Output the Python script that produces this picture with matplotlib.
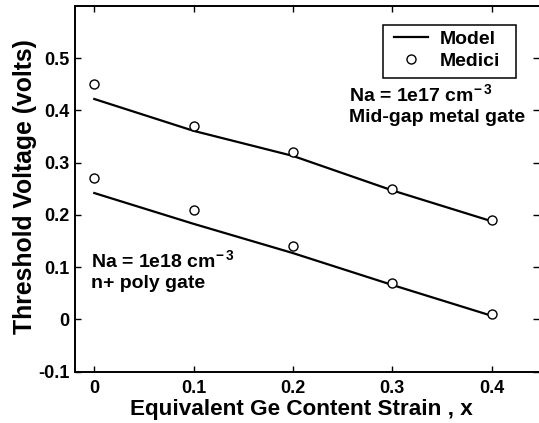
import matplotlib
matplotlib.use("Agg")
import matplotlib.pyplot as plt
from matplotlib.lines import Line2D
from matplotlib.patches import Rectangle

plt.rcParams['font.family'] = ['Liberation Sans', 'DejaVu Sans']
plt.rcParams['font.weight'] = 'bold'
plt.rcParams['mathtext.fontset'] = 'custom'
plt.rcParams['mathtext.rm'] = 'Liberation Sans:bold'
plt.rcParams['mathtext.it'] = 'Liberation Sans:bold'
plt.rcParams['mathtext.bf'] = 'Liberation Sans:bold'

# Data
x_strain = [0.0, 0.1, 0.2, 0.3, 0.4]
model_metal = [0.422, 0.361, 0.313, 0.247, 0.188]
medici_metal = [0.45, 0.37, 0.32, 0.25, 0.19]
model_poly = [0.242, 0.183, 0.127, 0.066, 0.007]
medici_poly = [0.27, 0.21, 0.14, 0.07, 0.01]
xticks = [0, 0.1, 0.2, 0.3, 0.4]
xticklabels = ['0', '0.1', '0.2', '0.3', '0.4']
yticks = [-0.1, 0, 0.1, 0.2, 0.3, 0.4, 0.5]
yticklabels = ['-0.1', '0', '0.1', '0.2', '0.3', '0.4', '0.5']

W, H = 539, 423
fig = plt.figure(figsize=(W / 100, H / 100), dpi=100)
ax = fig.add_axes([75 / W, (H - 371.7) / H, (W - 75) / W, (371.7 - 6) / H])

lw = 1.6
ms = 6.5
ax.plot(x_strain, model_metal, color='black', lw=lw, zorder=2)
ax.plot(x_strain, model_poly, color='black', lw=lw, zorder=2)
ax.plot(x_strain, medici_metal, linestyle='none', marker='o', ms=ms,
        mfc='white', mec='black', mew=1.0, zorder=3)
ax.plot(x_strain, medici_poly, linestyle='none', marker='o', ms=ms,
        mfc='white', mec='black', mew=1.0, zorder=3)

ax.set_xlim(-0.0194, 0.4476)
ax.set_ylim(-0.1, 0.6)
ax.set_xticks(xticks)
ax.set_xticklabels(xticklabels)
ax.set_yticks(yticks)
ax.set_yticklabels(yticklabels)
ax.tick_params(direction='in', length=4, width=1.0, top=True, right=True,
               labelsize=13, pad=4)
ax.tick_params(axis='x', pad=6)
for side in ['left', 'bottom', 'top']:
    ax.spines[side].set_linewidth(1.4)
ax.spines['right'].set_visible(False)

fig.text(25 / W, 1 - 186.5 / H, 'Threshold Voltage (volts)', rotation=90,
         ha='center', va='center', fontsize=17.8, fontweight='bold')
fig.text(301 / W, 1 - 415 / H, 'Equivalent Ge Content Strain , x',
         ha='center', va='baseline', fontsize=16.2, fontweight='bold')

fs_ann = 14
ax.text(0.2564, 0.418, r'Na = 1e17 cm$^{-\,3}$', fontsize=fs_ann,
        fontweight='bold', va='baseline', ha='left')
ax.text(0.2564, 0.3785, 'Mid-gap metal gate', fontsize=fs_ann,
        fontweight='bold', va='baseline', ha='left')
ax.text(-0.003, 0.101, r'Na = 1e18 cm$^{-\,3}$', fontsize=fs_ann,
        fontweight='bold', va='baseline', ha='left')
ax.text(-0.003, 0.0607, 'n+ poly gate', fontsize=fs_ann,
        fontweight='bold', va='baseline', ha='left')

# legend box
fig.add_artist(Rectangle((383.3 / W, 1 - 77.7 / H), (515.7 - 383.3) / W,
                         (77.7 - 25) / H, transform=fig.transFigure,
                         facecolor='white', edgecolor='black', lw=1.1,
                         zorder=4))
handles = [Line2D([], [], color='black', lw=lw),
           Line2D([], [], linestyle='none', marker='o', ms=ms,
                  mfc='white', mec='black', mew=1.0)]
leg = fig.legend(handles, ['Model', 'Medici'], loc='upper left',
                 bbox_to_anchor=(390 / W, 1 - 26 / H), borderaxespad=0,
                 frameon=False,
                 prop={'size': 14, 'weight': 'bold'}, handlelength=1.75,
                 handletextpad=0.6, labelspacing=0.25, borderpad=0.2,
                 numpoints=1)
leg.set_zorder(5)

fig.savefig('out.png', dpi=100)
